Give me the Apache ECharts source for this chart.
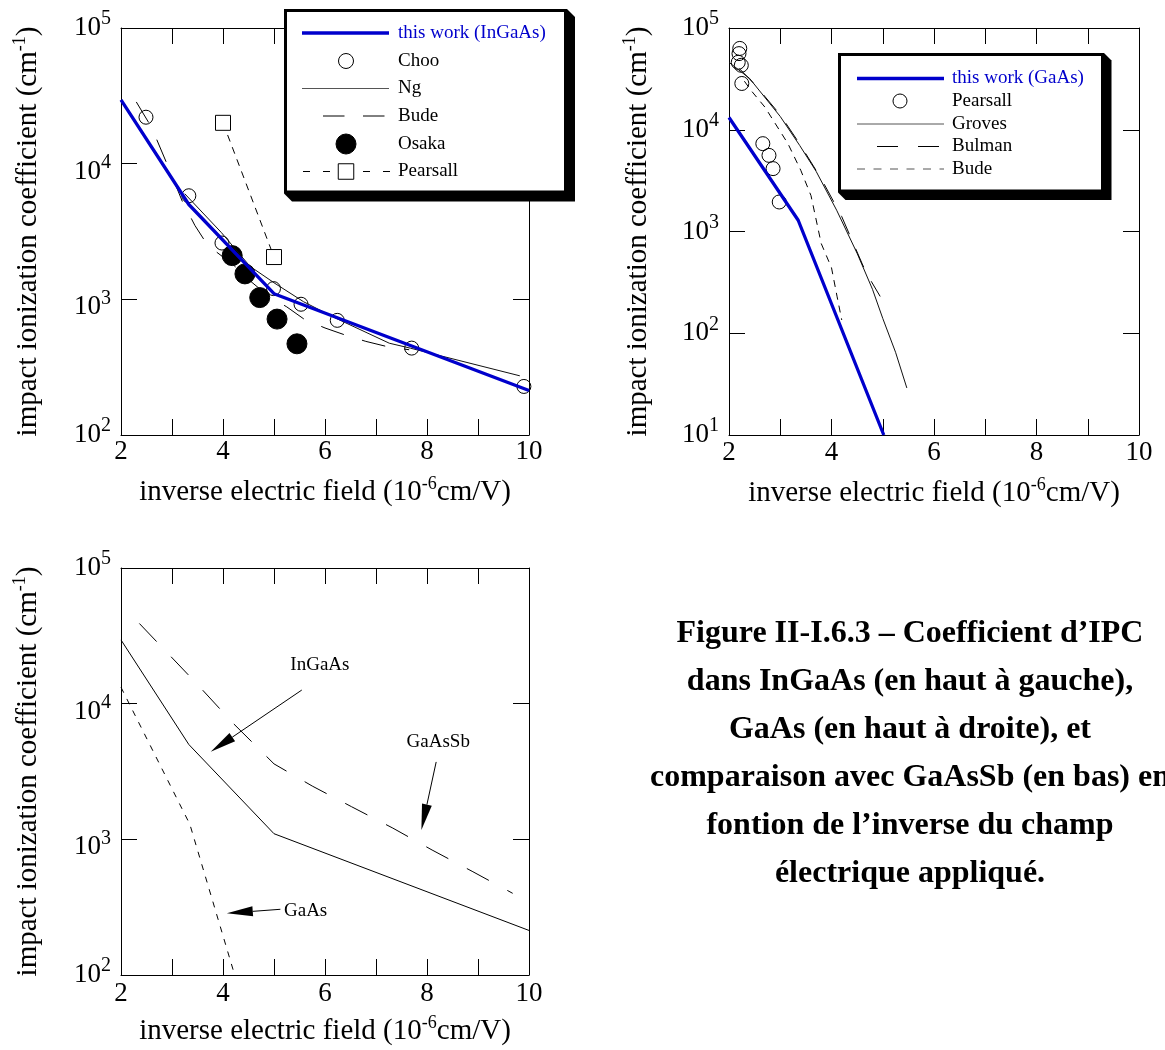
<!DOCTYPE html>
<html>
<head>
<meta charset="utf-8">
<script src="https://cdn.jsdelivr.net/npm/echarts@6/dist/echarts.min.js"></script>
<style>
  html, body { margin: 0; padding: 0; background: #fff; }
  #chart { width: 1165px; height: 1050px; }
</style>
</head>
<body>
<div id="chart"></div>
<script>
const SERIF = "'Liberation Serif', 'Times New Roman', Times, serif";
const BLUE = '#0000cc';

// ---------- InGaAs (top left) ----------
const ingaasWorkX = [2, 3.33, 5, 10];
const ingaasWorkY = [29500, 5000, 1100, 213];
const chooX = [2.49, 3.33, 3.98, 4.99, 5.53, 6.24, 7.70, 9.90];
const chooY = [22000, 5800, 2600, 1200, 920, 700, 437, 228];
const ngX = [3.25, 3.97, 4.53, 5.02, 5.58, 6.21, 7.26, 7.68, 9.82];
const ngY = [6000, 3100, 1750, 1310, 960, 726, 475, 436, 273];
const budeInX = [2.3, 2.6, 2.9, 3.2, 3.45, 3.7, 4.2, 4.5, 4.9, 5.25, 5.6, 6.0, 6.4, 6.8, 7.2, 7.65];
const budeInY = [28500, 18500, 10000, 5300, 3500, 2500, 1800, 1400, 1050, 880, 710, 615, 545, 490, 450, 425];
const osakaX = [4.18, 4.43, 4.72, 5.06, 5.45];
const osakaY = [2100, 1540, 1030, 715, 470];
const pearsallInX = [4.0, 5.0];
const pearsallInY = [20000, 2050];

// ---------- GaAs (top right) ----------
const gaasWorkX = [2, 3.35, 5.02];
const gaasWorkY = [13200, 1290, 10];
const pearsallGaX = [2.21, 2.195, 2.18, 2.24, 2.25, 2.66, 2.78, 2.86, 2.98];
const pearsallGaY = [63000, 56000, 46000, 43000, 28500, 7300, 5600, 4150, 1950];
const grovesX = [2.0, 2.4, 3.0, 3.38, 3.7, 4.1, 4.5, 4.8, 5.0, 5.25, 5.47];
const grovesY = [46000, 32000, 13500, 7000, 3900, 1620, 610, 270, 140, 65, 29];
const bulmanX = [2.2, 2.5, 3.0, 3.4, 3.8, 4.2, 4.6, 4.68, 4.95];
const bulmanY = [40000, 28000, 14000, 7000, 3300, 1400, 480, 390, 230];
const budeGaX = [2.3, 2.44, 2.7, 3.15, 3.4, 3.6, 3.8, 4.0, 4.11, 4.2];
const budeGaY = [30000, 24000, 16700, 7300, 4000, 2250, 760, 440, 228, 135];

// ---------- comparison (bottom left) ----------
const gaassbX = [2.36, 3.48, 4.21, 5.0, 5.75, 6.52, 7.33, 8.1, 8.9, 9.68];
const gaassbY = [39000, 14100, 7100, 3600, 2470, 1740, 1210, 834, 577, 400];

// annotation arrows: [fromX, fromY, tipX, tipY]
const arrowInGaAs = [5.545, 12600, 3.76, 4420];
const arrowGaAsSb = [8.18, 3720, 7.89, 1170];
const arrowGaAs = [5.125, 305, 4.075, 285];
const noteLabels = ['InGaAs', 'GaAsSb', 'GaAs'];
const noteX = [5.90, 8.22, 5.62];
const noteY = [19200, 5210, 297];

// caption
const captionLines = [
  'Figure II-I.6.3 \u2013 Coefficient d\u2019IPC',
  'dans InGaAs (en haut \u00e0 gauche),',
  'GaAs (en haut \u00e0 droite), et',
  'comparaison avec GaAsSb (en bas) en',
  'fontion de l\u2019inverse du champ',
  '\u00e9lectrique appliqu\u00e9.'
];

const pairs = (xs, ys) => xs.map((x, i) => [x, ys[i]]);

const titleRich = {
  t: { fontFamily: SERIF, fontSize: 29, lineHeight: 34, color: '#000' },
  u: { fontFamily: SERIF, fontSize: 18, lineHeight: 22, verticalAlign: 'top', color: '#000' }
};

// "10" with a raised exponent; the D variants sit 8px lower on the axis
function powStyles() {
  const b = { fontFamily: SERIF, fontSize: 27, lineHeight: 38, color: '#000' };
  const s = { fontFamily: SERIF, fontSize: 20, lineHeight: 18, verticalAlign: 'top', color: '#000' };
  return {
    b: b, s: s,
    bD: Object.assign({}, b, { padding: [16, 0, 0, 0] }),
    sD: Object.assign({}, s, { padding: [8, 0, 0, 0] })
  };
}

const axisLine = { show: true, onZero: false, lineStyle: { color: '#000', width: 1 } };
const axisTick = { show: true, inside: true, length: 16, lineStyle: { color: '#000', width: 1 } };

function xAxisPair(g, labelMargin, nameGap) {
  const base = {
    type: 'value', gridIndex: g, min: 2, max: 10, interval: 1,
    splitLine: { show: false }, axisLine: axisLine, axisTick: axisTick
  };
  return [
    Object.assign({}, base, {
      position: 'bottom',
      axisLabel: {
        show: true, margin: labelMargin, color: '#000', fontFamily: SERIF, fontSize: 27, lineHeight: 27,
        showMinLabel: true, showMaxLabel: true,
        formatter: v => (v % 2 === 0 ? String(v) : '')
      },
      name: '{t|inverse electric field (10}{u|-6}{t|cm/V)}',
      nameLocation: 'middle', nameGap: nameGap, nameMoveOverlap: false,
      nameTextStyle: { rich: titleRich }
    }),
    Object.assign({}, base, { position: 'top', axisLabel: { show: false } })
  ];
}

function yAxisPair(g, minV, shifts, nameGap) {
  const base = {
    type: 'log', logBase: 10, gridIndex: g, min: minV, max: 100000,
    splitLine: { show: false }, minorTick: { show: false }, axisLine: axisLine, axisTick: axisTick
  };
  return [
    Object.assign({}, base, {
      position: 'left',
      axisLabel: {
        show: true, margin: 10, showMinLabel: true, showMaxLabel: true,
        formatter: v => {
          const e = Math.round(Math.log10(v));
          const k = shifts[e] || '';
          return '{b' + k + '|10}{s' + k + '|' + e + '}';
        },
        rich: powStyles()
      },
      name: '{t|impact ionization coefficient (cm}{u|-1}{t|)}',
      nameLocation: 'middle', nameGap: nameGap, nameRotate: 90, nameMoveOverlap: false,
      nameTextStyle: { rich: titleRich }
    }),
    Object.assign({}, base, { position: 'right', axisLabel: { show: false } })
  ];
}

const shiftTop = { 4: 'D', 3: 'D' };

function curve(name, xi, yi, data, color, width, dash) {
  return {
    name: name, type: 'line', xAxisIndex: xi, yAxisIndex: yi, data: data,
    showSymbol: false, symbol: 'none', clip: true, silent: true,
    lineStyle: { color: color, width: width, type: dash || 'solid' }
  };
}
function dots(name, xi, yi, data, size, fill) {
  return {
    name: name, type: 'scatter', xAxisIndex: xi, yAxisIndex: yi, data: data,
    symbol: 'circle', symbolSize: size, silent: true,
    itemStyle: { color: fill, borderColor: '#000', borderWidth: 1, opacity: 1 }
  };
}

// ---------- legend boxes ----------
function legendBox(x0, y0, w, h, sh) {
  const x1 = x0 + w, y1 = y0 + h;
  return [
    { type: 'polygon', z: 100, silent: true,
      shape: { points: [[x1, y0], [x1 + sh, y0 + sh], [x1 + sh, y1 + sh], [x0 + sh, y1 + sh], [x0, y1]] },
      style: { fill: '#000' } },
    { type: 'rect', z: 101, silent: true,
      shape: { x: x0 + 1.5, y: y0 + 1.5, width: w - 3, height: h - 3 },
      style: { fill: '#fff', stroke: '#000', lineWidth: 3 } }
  ];
}
function hline(xa, xb, y, color, width, dash) {
  return { type: 'line', z: 102, silent: true, shape: { x1: xa, y1: y, x2: xb, y2: y },
    style: { stroke: color, lineWidth: width, lineDash: dash || null } };
}
function circ(cx, cy, r, fill) {
  return { type: 'circle', z: 102, silent: true, shape: { cx: cx, cy: cy, r: r },
    style: { fill: fill, stroke: '#000', lineWidth: 1 } };
}
function square(cx, cy, s) {
  return { type: 'rect', z: 103, silent: true, shape: { x: cx - s / 2, y: cy - s / 2, width: s, height: s },
    style: { fill: '#fff', stroke: '#000', lineWidth: 1 } };
}
function label(x, y, text, color, font, align) {
  return { type: 'text', z: 104, silent: true, x: x, y: y,
    style: { text: text, font: font, fill: color,
      align: align || 'left', verticalAlign: 'middle',
      textAlign: align || 'left', textVerticalAlign: 'middle' } };
}

const LF = '19px ' + SERIF;
const rows1 = [33, 61, 88.5, 116, 144, 171.5];
const legend1 = [].concat(
  legendBox(284, 9, 283, 184.5, 8),
  [
    hline(302, 389, rows1[0], BLUE, 3.3),
    circ(346, rows1[1], 7.5, 'rgba(0,0,0,0)'),
    hline(302, 389, rows1[2], '#555', 1),
    hline(323, 385, rows1[3], '#000', 1, [21.5, 18.5]),
    circ(346, rows1[4], 10, '#000'),
    hline(303, 390, rows1[5], '#000', 1, [7, 13]),
    square(346, rows1[5], 15.5),
    label(398, rows1[0], 'this work (InGaAs)', BLUE, LF),
    label(398, rows1[1], 'Choo', '#000', LF),
    label(398, rows1[2], 'Ng', '#000', LF),
    label(398, rows1[3], 'Bude', '#000', LF),
    label(398, rows1[4], 'Osaka', '#000', LF),
    label(398, rows1[5], 'Pearsall', '#000', LF)
  ]
);

const rows2 = [78.5, 101, 124, 146.5, 169];
const legend2 = [].concat(
  legendBox(838, 53, 266, 139.5, 7.5),
  [
    hline(857, 944, rows2[0], BLUE, 3.3),
    circ(900, rows2[1], 7, 'rgba(0,0,0,0)'),
    hline(857, 944, rows2[2], '#555', 1),
    hline(877, 939, rows2[3], '#000', 1, [21, 20]),
    hline(857, 944, rows2[4], '#555', 1, [8, 8.5]),
    label(952, rows2[0], 'this work (GaAs)', BLUE, LF),
    label(952, rows2[1], 'Pearsall', '#000', LF),
    label(952, rows2[2], 'Groves', '#000', LF),
    label(952, rows2[3], 'Bulman', '#000', LF),
    label(952, rows2[4], 'Bude', '#000', LF)
  ]
);

const CF = 'bold 32px ' + SERIF;
const caption = captionLines.map((t, i) => label(910, 634 + i * 48, t, '#000', CF, 'center'));

// ---------- annotation series for the comparison panel ----------
const arrowSeries = {
  type: 'custom', xAxisIndex: 4, yAxisIndex: 4, silent: true, clip: false, z: 5,
  data: [arrowInGaAs, arrowGaAsSb, arrowGaAs],
  encode: { x: [0, 2], y: [1, 3] },
  renderItem: function (params, api) {
    const a = api.coord([api.value(0), api.value(1)]);
    const b = api.coord([api.value(2), api.value(3)]);
    const dx = b[0] - a[0], dy = b[1] - a[1];
    const len = Math.hypot(dx, dy);
    const ux = dx / len, uy = dy / len;
    const L = 26, W = 5;
    const bx = b[0] - ux * L, by = b[1] - uy * L;
    return {
      type: 'group',
      children: [
        { type: 'line', shape: { x1: a[0], y1: a[1], x2: bx, y2: by }, style: { stroke: '#000', lineWidth: 1 } },
        { type: 'polygon', shape: { points: [[b[0], b[1]], [bx - uy * W, by + ux * W], [bx + uy * W, by - ux * W]] },
          style: { fill: '#000' } }
      ]
    };
  }
};
const noteSeries = {
  type: 'custom', xAxisIndex: 4, yAxisIndex: 4, silent: true, clip: false, z: 5,
  data: pairs(noteX, noteY),
  renderItem: function (params, api) {
    const p = api.coord([api.value(0), api.value(1)]);
    return {
      type: 'text', x: p[0], y: p[1],
      style: { text: noteLabels[params.dataIndex], font: LF, fill: '#000',
        align: 'center', verticalAlign: 'middle', textAlign: 'center', textVerticalAlign: 'middle' }
    };
  }
};

const gridBase = { containLabel: false, outerBoundsMode: 'none' };
const option = {
  animation: false,
  backgroundColor: '#fff',
  grid: [
    Object.assign({ left: 121, top: 28, width: 408, height: 407 }, gridBase),
    Object.assign({ left: 729, top: 28, width: 410, height: 407 }, gridBase),
    Object.assign({ left: 121, top: 568, width: 408, height: 407 }, gridBase)
  ],
  xAxis: [].concat(xAxisPair(0, 3, 40), xAxisPair(1, 4, 41), xAxisPair(2, 5, 39)),
  yAxis: [].concat(yAxisPair(0, 100, shiftTop, 76), yAxisPair(1, 10, {}, 74), yAxisPair(2, 100, shiftTop, 76)),
  series: [
    // InGaAs panel
    curve('Bude', 0, 0, pairs(budeInX, budeInY), '#000', 1, [24, 19]),
    curve('Ng', 0, 0, pairs(ngX, ngY), '#111', 1),
    curve('this work (InGaAs)', 0, 0, pairs(ingaasWorkX, ingaasWorkY), BLUE, 3.3),
    Object.assign(curve('Pearsall', 0, 0, pairs(pearsallInX, pearsallInY), '#000', 1, [7, 6]), {
      showSymbol: true, symbol: 'rect', symbolSize: 15,
      itemStyle: { color: '#fff', borderColor: '#000', borderWidth: 1 }
    }),
    dots('Choo', 0, 0, pairs(chooX, chooY), 14, 'rgba(0,0,0,0)'),
    dots('Osaka', 0, 0, pairs(osakaX, osakaY), 20, '#000'),
    // GaAs panel
    curve('Groves', 2, 2, pairs(grovesX, grovesY), '#111', 1),
    curve('Bulman', 2, 2, pairs(bulmanX, bulmanY), '#000', 1, [20, 16]),
    curve('Bude', 2, 2, pairs(budeGaX, budeGaY), '#000', 1, [7, 6]),
    curve('this work (GaAs)', 2, 2, pairs(gaasWorkX, gaasWorkY), BLUE, 3.3),
    dots('Pearsall', 2, 2, pairs(pearsallGaX, pearsallGaY), 14, 'rgba(0,0,0,0)'),
    // comparison panel
    curve('InGaAs', 4, 4, pairs(ingaasWorkX, ingaasWorkY), '#000', 1),
    curve('GaAsSb', 4, 4, pairs(gaassbX, gaassbY), '#000', 1, [25, 21]),
    curve('GaAs', 4, 4, pairs(gaasWorkX, gaasWorkY), '#000', 1, [6, 7]),
    arrowSeries,
    noteSeries
  ],
  graphic: { elements: [].concat(legend1, legend2, caption) }
};

const chart = echarts.init(document.getElementById('chart'), null, { renderer: 'canvas' });
chart.setOption(option);
</script>
</body>
</html>
